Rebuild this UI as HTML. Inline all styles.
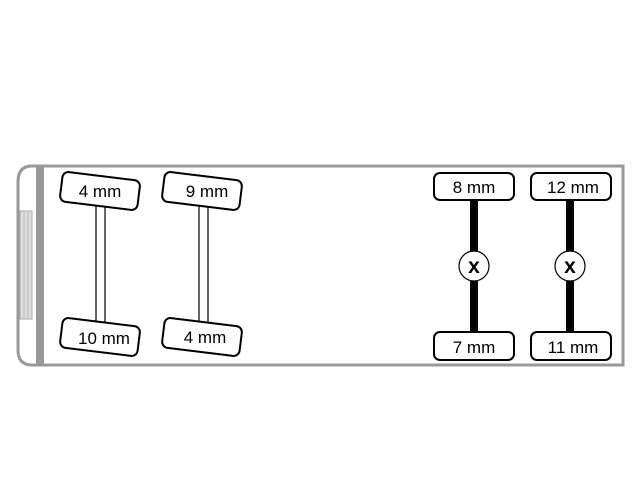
<!DOCTYPE html>
<html><head><style>body{margin:0;background:#fff}</style></head><body>
<svg width="640" height="480" xmlns="http://www.w3.org/2000/svg" font-family="Liberation Sans, sans-serif">
<rect width="640" height="480" fill="#fff"/>
<path d="M36 166 H623 V365 H36 Z" fill="#fff" stroke="#999" stroke-width="3"/>
<path d="M36 166 H32 Q18 166 18 182 V350 Q18 365 32 365 H36" fill="#fff" stroke="#999" stroke-width="3"/>
<rect x="36" y="166" width="8" height="199" fill="#999"/>
<rect x="20" y="211" width="12" height="108" fill="#ddd" stroke="#aaa" stroke-width="1"/>
<line x1="24" y1="211" x2="24" y2="319" stroke="#bbb"/><line x1="28" y1="211" x2="28" y2="319" stroke="#bbb"/>
<g stroke="#000" stroke-width="1.2" fill="none">
<line x1="96" y1="205" x2="96" y2="324"/><line x1="105" y1="205" x2="105" y2="324"/>
<line x1="199" y1="205" x2="199" y2="324"/><line x1="208" y1="205" x2="208" y2="324"/>
</g>
<g stroke="#000" stroke-width="2" fill="#fff">
<rect x="61" y="176" width="78" height="30" rx="6" transform="rotate(7 100 191)"/>
<rect x="61" y="322" width="78" height="30" rx="6" transform="rotate(7 100 337)"/>
<rect x="163" y="176" width="78" height="30" rx="6" transform="rotate(7 202 191)"/>
<rect x="163" y="322" width="78" height="30" rx="6" transform="rotate(7 202 337)"/>
</g>
<g font-size="17" text-anchor="middle" fill="#000">
<text x="100" y="197">4 mm</text><text x="104" y="344">10 mm</text>
<text x="207" y="197">9 mm</text><text x="205" y="343">4 mm</text>
</g>
<rect x="470" y="198" width="8" height="136" fill="#000"/>
<rect x="566" y="198" width="8" height="136" fill="#000"/>
<g stroke="#000" stroke-width="2" fill="#fff">
<rect x="434" y="173" width="80" height="27" rx="6"/>
<rect x="434" y="332" width="80" height="28" rx="6"/>
<rect x="531" y="173" width="80" height="27" rx="6"/>
<rect x="531" y="332" width="80" height="28" rx="6"/>
<circle cx="474" cy="266" r="15" stroke-width="1.2"/>
<circle cx="570" cy="266" r="15" stroke-width="1.2"/>
</g>
<g font-size="17" text-anchor="middle" fill="#000">
<text x="474" y="193">8 mm</text><text x="474" y="353">7 mm</text>
<text x="573" y="193">12 mm</text><text x="573" y="353">11 mm</text>
<text x="474" y="273" font-weight="bold" font-size="21">x</text>
<text x="570" y="273" font-weight="bold" font-size="21">x</text>
</g>
</svg>
</body></html>
